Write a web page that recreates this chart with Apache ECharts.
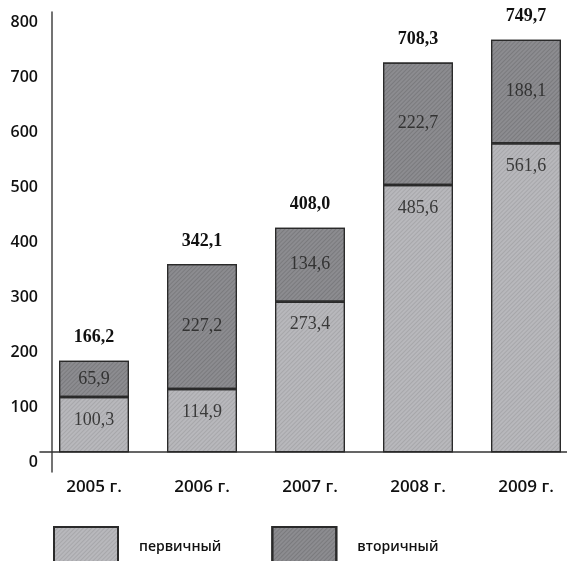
<!DOCTYPE html>
<html>
<head>
<meta charset="utf-8">
<script src="https://cdn.jsdelivr.net/npm/echarts@6/dist/echarts.min.js"></script>
<style>
  html, body { margin: 0; padding: 0; background: #fff; }
  #chart { width: 567px; height: 561px; }
</style>
</head>
<body>
<div id="chart"></div>
<script>
// data
const years = ['2005 г.', '2006 г.', '2007 г.', '2008 г.', '2009 г.']
const primary = [100.3, 114.9, 273.4, 485.6, 561.6]
const secondary = [65.9, 227.2, 134.6, 222.7, 188.1]
const yTicks = [0, 100, 200, 300, 400, 500, 600, 700, 800]

const fmt = v => v.toFixed(1).replace('.', ',')
const totals = primary.map((p, i) => p + secondary[i])

const chart = echarts.init(document.getElementById('chart'))
chart.setOption({
  animation: false,
  grid: { left: 40, width: 540, top: 12, bottom: 89, outerBoundsMode: 'none', containLabel: false },
  legend: {
    left: 48,
    top: 521,
    icon: 'rect',
    itemWidth: 64,
    itemHeight: 40,
    itemGap: 50,
    textStyle: {
      fontFamily: 'Open Sans',
      fontWeight: 600,
      fontSize: 14,
      color: '#111',
      padding: [0, 0, 0, 16]
    },
    data: ['первичный', 'вторичный']
  },
  xAxis: {
    type: 'category',
    data: years,
    axisLine: { onZero: true, lineStyle: { color: '#333', width: 1.5 } },
    axisTick: { show: false },
    axisLabel: {
      margin: 7,
      fontFamily: 'Open Sans',
      fontWeight: 600,
      fontSize: 17,
      color: '#111'
    }
  },
  yAxis: {
    type: 'value',
    min: -36,
    max: 800,
    offset: -12,
    splitLine: { show: false },
    axisTick: { show: false },
    axisLine: { show: true, lineStyle: { color: '#444', width: 1.5 } },
    axisLabel: {
      customValues: yTicks,
      margin: 14,
      verticalAlign: 'top',
      padding: [2, 0, 0, 0],
      fontFamily: 'Open Sans',
      fontWeight: 600,
      fontSize: 16,
      color: '#111'
    }
  },
  series: [
    {
      name: 'первичный',
      type: 'bar',
      stack: 'total',
      barWidth: 70,
      data: primary,
      itemStyle: {
        color: '#b8b8bc',
        borderColor: '#2a2a2a',
        borderWidth: 1.2,
        decal: { symbol: 'rect', symbolSize: 1, dashArrayX: [1, 0], dashArrayY: [1, 2], rotation: -Math.PI / 4, color: 'rgba(90,90,90,0.18)' }
      },
      label: {
        show: true,
        position: 'insideTop',
        distance: 14,
        formatter: p => fmt(p.value),
        fontFamily: 'Liberation Serif',
        fontSize: 18,
        color: '#3a3a3a'
      }
    },
    {
      name: 'вторичный',
      type: 'bar',
      stack: 'total',
      barWidth: 70,
      data: secondary,
      itemStyle: {
        color: '#8c8c90',
        borderColor: '#2a2a2a',
        borderWidth: 1.2,
        decal: { symbol: 'rect', symbolSize: 1, dashArrayX: [1, 0], dashArrayY: [1, 2], rotation: -Math.PI / 4, color: 'rgba(50,50,50,0.2)' }
      },
      label: {
        show: true,
        position: 'inside',
        formatter: p => fmt(p.value),
        fontFamily: 'Liberation Serif',
        fontSize: 18,
        color: '#333'
      }
    },
    {
      // invisible series carrying the total labels
      name: 'итого',
      type: 'bar',
      stack: 'total',
      barWidth: 70,
      data: totals.map(() => 0),
      itemStyle: { color: 'transparent' },
      label: {
        show: true,
        position: 'top',
        distance: 14,
        formatter: p => fmt(totals[p.dataIndex]),
        fontFamily: 'Liberation Serif',
        fontWeight: 'bold',
        fontSize: 18,
        color: '#111'
      }
    }
  ]
})
</script>
</body>
</html>
